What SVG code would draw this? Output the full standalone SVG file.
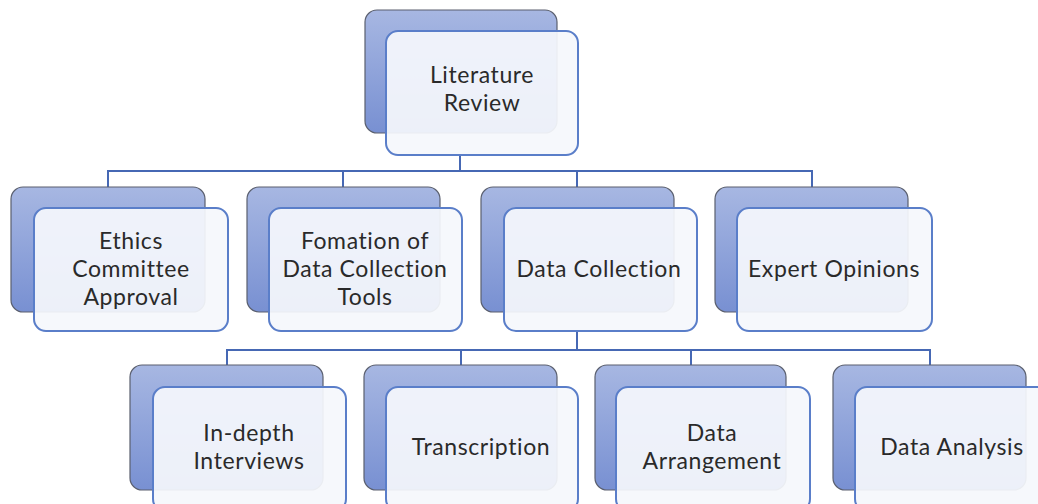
<svg xmlns="http://www.w3.org/2000/svg" width="1038" height="504" viewBox="0 0 1038 504">
<defs>
<linearGradient id="g" x1="0" y1="0" x2="0" y2="1">
<stop offset="0" stop-color="#a7b7e2"/>
<stop offset="1" stop-color="#7890d2"/>
</linearGradient>
<style>
.b{fill:url(#g);stroke:#5a5f6e;stroke-width:1.2}
.f{fill:#f5f7fc;fill-opacity:0.93;stroke:#5a7ec9;stroke-width:2}
.c{fill:none;stroke:#4668b4;stroke-width:2}
text{font-family:Lato,"Open Sans",sans-serif;font-size:23px;letter-spacing:0.6px;fill:#2a2a2a;text-anchor:middle}
</style>
</defs>
<rect width="1038" height="504" fill="#fff"/>
<g id="connectors">
<path class="c" d="M460 155V171M108 187V171H812V187M343 171V187M577 171V187"/>
<path class="c" d="M577 331V350M227 365V350H930V365M461 350V365M691 350V365"/>
</g>
<g id="n-lit"><rect class="b" x="365" y="10" width="192" height="123" rx="12"/><rect class="f" x="386" y="31" width="192" height="124" rx="12"/><text x="482" y="83">Literature</text><text x="482" y="111">Review</text></g>
<g id="n-ethics"><rect class="b" x="11" y="187" width="194" height="125" rx="12"/><rect class="f" x="34" y="208" width="194" height="123" rx="12"/><text x="131" y="249">Ethics</text><text x="131" y="277">Committee</text><text x="131" y="305">Approval</text></g>
<g id="n-tools"><rect class="b" x="247" y="187" width="193" height="125" rx="12"/><rect class="f" x="269" y="208" width="193" height="123" rx="12"/><text x="365" y="249">Fomation of</text><text x="365" y="277">Data Collection</text><text x="365" y="305">Tools</text></g>
<g id="n-dc"><rect class="b" x="481" y="187" width="193" height="125" rx="12"/><rect class="f" x="504" y="208" width="193" height="123" rx="12"/><text x="599" y="277">Data Collection</text></g>
<g id="n-expert"><rect class="b" x="715" y="187" width="193" height="125" rx="12"/><rect class="f" x="737" y="208" width="195" height="123" rx="12"/><text x="834" y="277">Expert Opinions</text></g>
<g id="n-indepth"><rect class="b" x="130" y="365" width="193" height="125" rx="12"/><rect class="f" x="153" y="387" width="193" height="124" rx="12"/><text x="249" y="441">In-depth</text><text x="249" y="469">Interviews</text></g>
<g id="n-trans"><rect class="b" x="364" y="365" width="193" height="125" rx="12"/><rect class="f" x="386" y="387" width="192" height="124" rx="12"/><text x="481" y="455">Transcription</text></g>
<g id="n-arr"><rect class="b" x="595" y="365" width="191" height="125" rx="12"/><rect class="f" x="616" y="387" width="194" height="124" rx="12"/><text x="712" y="441">Data</text><text x="712" y="469">Arrangement</text></g>
<g id="n-anal"><rect class="b" x="833" y="365" width="193" height="125" rx="12"/><rect class="f" x="855" y="387" width="194" height="124" rx="12"/><text x="952" y="455">Data Analysis</text></g>
</svg>
